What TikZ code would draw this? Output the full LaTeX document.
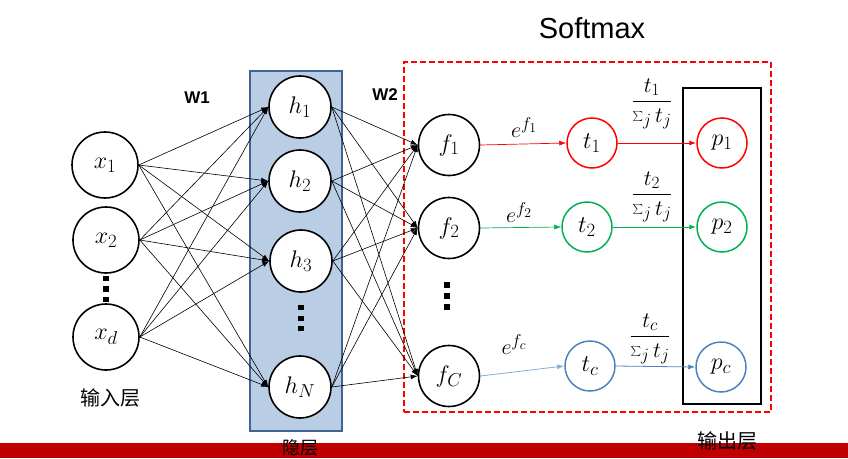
\RequirePackage{fix-cm}
\documentclass[tikz,border=0pt]{standalone}
\usepackage{fontspec}
\setmainfont{Liberation Sans}
\newfontfamily\cjk{Noto Sans CJK SC}
\usetikzlibrary{arrows.meta}
\makeatletter
\renewcommand\defaultscriptratio{.78}
\renewcommand\defaultscriptscriptratio{.62}
\makeatother
\definecolor{myred}{RGB}{255,0,0}
\definecolor{mygreen}{RGB}{0,176,80}
\definecolor{myblue}{RGB}{79,129,189}
\definecolor{lightblueline}{RGB}{140,172,212}
\definecolor{hidfill}{RGB}{185,205,228}
\definecolor{hiddraw}{RGB}{65,100,145}
\definecolor{barred}{RGB}{192,0,0}
\tikzset{
  neuron/.style={circle, draw, line width=1.6pt, inner sep=0pt, fill=white,
    font=\fontsize{24}{27}\selectfont},
  small/.style={neuron, minimum size=50pt, line width=1.5pt},
  conn/.style={-{Latex[length=7pt,width=5pt]}, line width=0.6pt},
  flow/.style={-{Latex[length=7pt,width=5pt]}, line width=0.8pt},
  dotsq/.style={fill=black, inner sep=0pt, minimum size=5.5pt},
  lbl/.style={font=\fontsize{22}{25}\selectfont},
  cjklbl/.style={font=\cjk\fontsize{20}{24}\selectfont},
  wlbl/.style={font=\bfseries\fontsize{17}{19}\selectfont}
}
\begin{document}
\begin{tikzpicture}[x=1pt,y=-1pt]
\useasboundingbox (0,0) rectangle (848,458);
% hidden layer box
\node[draw=hiddraw, fill=hidfill, line width=1.5pt, minimum width=92pt, minimum height=360pt, inner sep=0pt] (hidbox) at (296,251) {};
% softmax dashed box
\node[draw=myred, dashed, dash pattern=on 6pt off 3pt, line width=1.6pt, minimum width=367pt, minimum height=350pt, inner sep=0pt] (smbox) at (587.5,237) {};
% output box
\node[draw, line width=1.6pt, minimum width=78pt, minimum height=316pt, inner sep=0pt] (outbox) at (722,246) {};
% input nodes
\node[neuron, minimum size=66pt] (x1) at (105,165) {$x_1$};
\node[neuron, minimum size=66pt] (x2) at (106,240) {$x_2$};
\node[neuron, minimum size=66pt] (xd) at (106,337) {$x_d$};
% hidden nodes
\node[neuron, minimum size=62pt] (h1) at (300,107) {$h_1$};
\node[neuron, minimum size=62pt] (h2) at (300,181) {$h_2$};
\node[neuron, minimum size=62pt] (h3) at (301,261) {$h_3$};
\node[neuron, minimum size=62pt] (hN) at (300,387) {$h_N$};
% f nodes
\node[neuron, minimum size=61pt] (f1) at (449,145) {$f_1$};
\node[neuron, minimum size=61pt] (f2) at (449,228) {$f_2$};
\node[neuron, minimum size=61pt] (fC) at (449,376) {$f_C$};
% t nodes
\node[small, draw=myred] (t1) at (592,143) {$t_1$};
\node[small, draw=mygreen] (t2) at (587,227) {$t_2$};
\node[small, draw=myblue] (tc) at (590,366) {$t_c$};
% p nodes
\node[small, draw=myred] (p1) at (722,143) {$p_1$};
\node[small, draw=mygreen] (p2) at (722,227) {$p_2$};
\node[small, draw=myblue] (pc) at (721,367) {$p_c$};
% dots
\node[dotsq] (dx1) at (106,278.5) {};
\node[dotsq] (dx2) at (106,289) {};
\node[dotsq] (dx3) at (106,299.5) {};
\node[dotsq] (dh1) at (301,307.5) {};
\node[dotsq] (dh2) at (301,318.5) {};
\node[dotsq] (dh3) at (301,328.5) {};
\node[dotsq] (df1) at (447,285) {};
\node[dotsq] (df2) at (447,296) {};
\node[dotsq] (df3) at (447,307) {};
% connections input -> hidden
\foreach \a in {x1,x2,xd}{
  \foreach \b in {h1,h2,h3,hN}{
    \draw[conn] (\a.east) -- (\b.west);
  }
}
% hidden -> f
\foreach \a in {h1,h2,h3,hN}{
  \foreach \b in {f1,f2,fC}{
    \draw[conn] (\a.east) -- (\b.west);
  }
}
% softmax flows
\draw[flow, draw=myred, line width=0.7pt] (f1.east) -- (t1.west);
\draw[flow, draw=mygreen, line width=0.7pt] (f2.east) -- (t2.west);
\draw[flow, draw=lightblueline] (fC.east) -- (tc.west);
\draw[flow, draw=myred, line width=1pt] (t1.east) -- (p1.west);
\draw[flow, draw=mygreen, line width=1pt] (t2.east) -- (p2.west);
\draw[flow, draw=myblue] (tc.east) -- (pc.west);
% labels
\node[lbl] (e1) at (524,128) {$e^{f_1}$};
\node[lbl] (e2) at (519,213) {$e^{f_2}$};
\node[lbl] (ec) at (514,345) {$e^{f_c}$};
\node[lbl] (fr1) at (652,104) {$\displaystyle\frac{t_1}{\textstyle\sum_j t_j}$};
\node[lbl] (fr2) at (652,197) {$\displaystyle\frac{t_2}{\textstyle\sum_j t_j}$};
\node[lbl] (frc) at (650,339) {$\displaystyle\frac{t_c}{\textstyle\sum_j t_j}$};
\node[wlbl] (w1) at (197,98) {W1};
\node[wlbl] (w2) at (385,95) {W2};
\node[font=\fontsize{29}{32}\selectfont] (sm) at (592,28) {Softmax};
% bottom bar
\fill[barred] (0,443) rectangle (848,458);
\node[cjklbl] (inl) at (110,398) {输入层};
\node[cjklbl] (outl) at (727,441) {输出层};
\node[cjklbl, font=\cjk\fontsize{18}{20}\selectfont] (hidl) at (300,448) {隐层};
\end{tikzpicture}
\end{document}
